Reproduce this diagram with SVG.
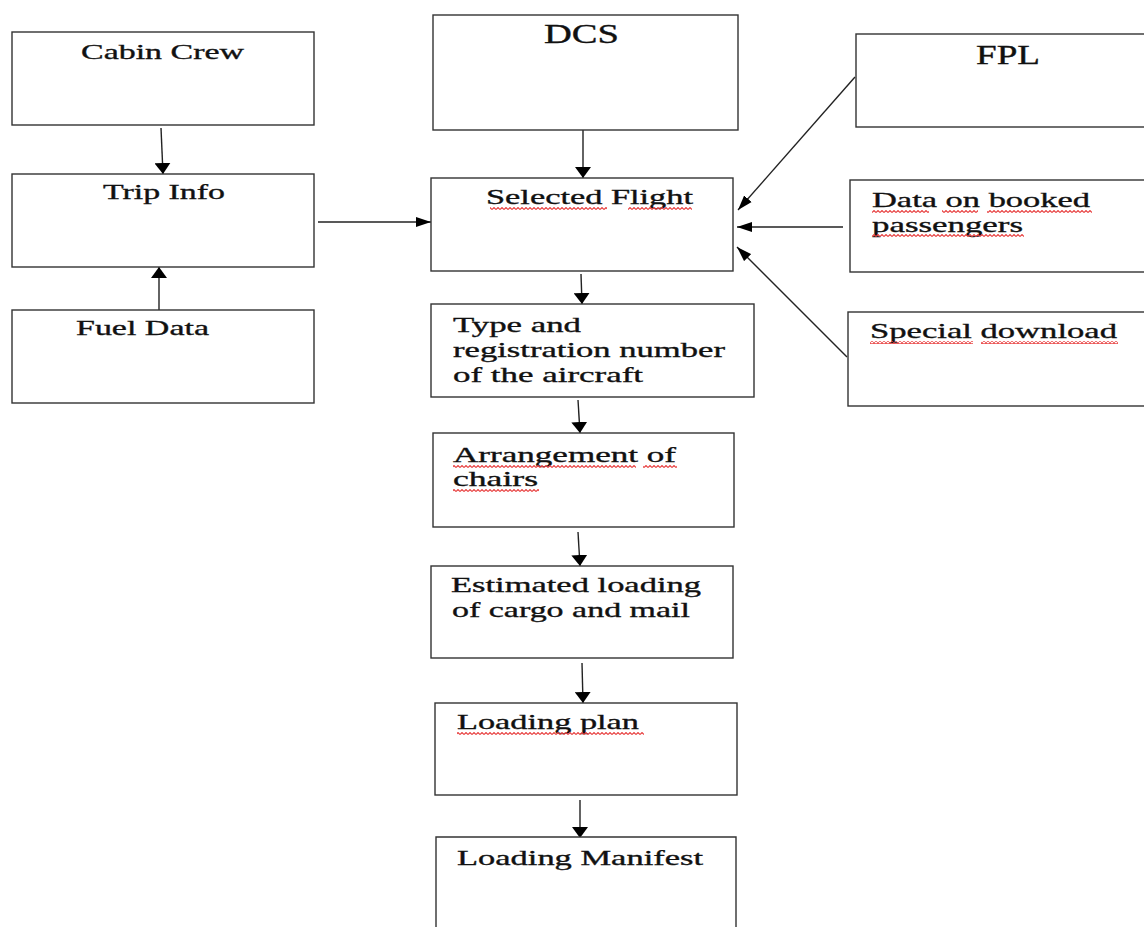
<svg xmlns="http://www.w3.org/2000/svg" width="1144" height="927" viewBox="0 0 1144 927">
<style>
.box{fill:#fff;stroke:#333;stroke-width:1.4}
.t{font-family:"Liberation Serif","Times New Roman",serif;font-size:22px;fill:#111;stroke:#111;stroke-width:0.35}
.big{font-size:27px}
.c{stroke:#222;stroke-width:1.4;fill:none}
.cv{marker-end:url(#av)}
.ch{marker-end:url(#ah)}
.sq{fill:url(#wave)}
</style>
<defs>
<marker id="av" markerUnits="userSpaceOnUse" markerWidth="12" markerHeight="16" refX="11" refY="8" orient="auto" viewBox="0 0 12 16">
<path d="M0,0 L11,8 L0,16 z" fill="#000"/>
</marker>
<marker id="ah" markerUnits="userSpaceOnUse" markerWidth="16" markerHeight="11" refX="15" refY="5.5" orient="auto" viewBox="0 0 16 11">
<path d="M0,0.5 L15,5.5 L0,10.5 z" fill="#000"/>
</marker>
<pattern id="wave" patternUnits="userSpaceOnUse" width="4" height="3">
<polyline points="0,2.5 2,0.5 4,2.5" fill="none" stroke="#e84040" stroke-width="1.1"/>
</pattern>
</defs>
<rect width="1144" height="927" fill="#fff"/>

<g id="connectors">
<line class="c cv" x1="161" y1="128" x2="163" y2="174"/>
<line class="c cv" x1="159" y1="310" x2="159" y2="267"/>
<line class="c ch" x1="318" y1="222" x2="431" y2="222"/>
<line class="c cv" x1="583" y1="130" x2="583" y2="178"/>
<line class="c ch" x1="855" y1="77" x2="738" y2="210"/>
<line class="c ch" x1="843" y1="227" x2="737" y2="227"/>
<line class="c ch" x1="847" y1="357" x2="737" y2="247"/>
<line class="c cv" x1="581" y1="274" x2="582" y2="304"/>
<line class="c cv" x1="578" y1="400" x2="580" y2="433"/>
<line class="c cv" x1="578" y1="532" x2="580" y2="566"/>
<line class="c cv" x1="582" y1="663" x2="583" y2="703"/>
<line class="c cv" x1="580" y1="800" x2="580" y2="838"/>
</g>

<g id="cabin-crew">
<rect class="box" x="12" y="32" width="302" height="93"/>
<text class="t" x="81" y="59" textLength="163" lengthAdjust="spacingAndGlyphs">Cabin Crew</text>
</g>
<g id="trip-info">
<rect class="box" x="12" y="174" width="302" height="93"/>
<text class="t" x="103" y="199" textLength="122" lengthAdjust="spacingAndGlyphs">Trip Info</text>
</g>
<g id="fuel-data">
<rect class="box" x="12" y="310" width="302" height="93"/>
<text class="t" x="76" y="335" textLength="133" lengthAdjust="spacingAndGlyphs">Fuel Data</text>
</g>

<g id="dcs">
<rect class="box" x="433" y="15" width="305" height="115"/>
<text class="t big" x="544" y="43" textLength="75" lengthAdjust="spacingAndGlyphs">DCS</text>
</g>
<g id="selected-flight">
<rect class="box" x="431" y="178" width="302" height="93"/>
<text class="t" x="486" y="204" textLength="207" lengthAdjust="spacingAndGlyphs">Selected Flight</text>
<rect class="sq" x="490" y="207" width="117" height="3"/>
<rect class="sq" x="628" y="207" width="64" height="3"/>
</g>
<g id="type-registration">
<rect class="box" x="431" y="304" width="323" height="93"/>
<text class="t" x="453" y="332" textLength="128" lengthAdjust="spacingAndGlyphs">Type and</text>
<text class="t" x="453" y="357" textLength="272" lengthAdjust="spacingAndGlyphs">registration number</text>
<text class="t" x="453" y="382" textLength="190" lengthAdjust="spacingAndGlyphs">of the aircraft</text>
</g>
<g id="arrangement-of-chairs">
<rect class="box" x="433" y="433" width="301" height="94"/>
<text class="t" x="453" y="462" textLength="223" lengthAdjust="spacingAndGlyphs">Arrangement of</text>
<text class="t" x="453" y="486" textLength="85" lengthAdjust="spacingAndGlyphs">chairs</text>
<rect class="sq" x="453" y="465" width="183" height="3"/>
<rect class="sq" x="643" y="465" width="34" height="3"/>
<rect class="sq" x="453" y="489" width="86" height="3"/>
</g>
<g id="estimated-loading">
<rect class="box" x="431" y="566" width="302" height="92"/>
<text class="t" x="451" y="592" textLength="250" lengthAdjust="spacingAndGlyphs">Estimated loading</text>
<text class="t" x="452" y="617" textLength="238" lengthAdjust="spacingAndGlyphs">of cargo and mail</text>
</g>
<g id="loading-plan">
<rect class="box" x="435" y="703" width="302" height="92"/>
<text class="t" x="457" y="729" textLength="182" lengthAdjust="spacingAndGlyphs">Loading plan</text>
<rect class="sq" x="457" y="732" width="187" height="3"/>
</g>
<g id="loading-manifest">
<path class="box" d="M436,930 L436,837 L736,837 L736,930"/>
<text class="t" x="457" y="865" textLength="246" lengthAdjust="spacingAndGlyphs">Loading Manifest</text>
</g>

<g id="fpl">
<rect class="box" x="856" y="34" width="300" height="93"/>
<text class="t big" x="976" y="64" textLength="64" lengthAdjust="spacingAndGlyphs">FPL</text>
</g>
<g id="data-booked-passengers">
<rect class="box" x="850" y="180" width="306" height="92"/>
<text class="t" x="872" y="207" textLength="218" lengthAdjust="spacingAndGlyphs">Data on booked</text>
<text class="t" x="872" y="232" textLength="151" lengthAdjust="spacingAndGlyphs">passengers</text>
<rect class="sq" x="872" y="210" width="57" height="3"/>
<rect class="sq" x="942" y="210" width="36" height="3"/>
<rect class="sq" x="987" y="210" width="105" height="3"/>
<rect class="sq" x="872" y="234" width="152" height="3"/>
</g>
<g id="special-download">
<rect class="box" x="848" y="312" width="308" height="94"/>
<text class="t" x="870" y="338" textLength="247" lengthAdjust="spacingAndGlyphs">Special download</text>
<rect class="sq" x="870" y="341" width="103" height="3"/>
<rect class="sq" x="981" y="341" width="137" height="3"/>
</g>
</svg>
